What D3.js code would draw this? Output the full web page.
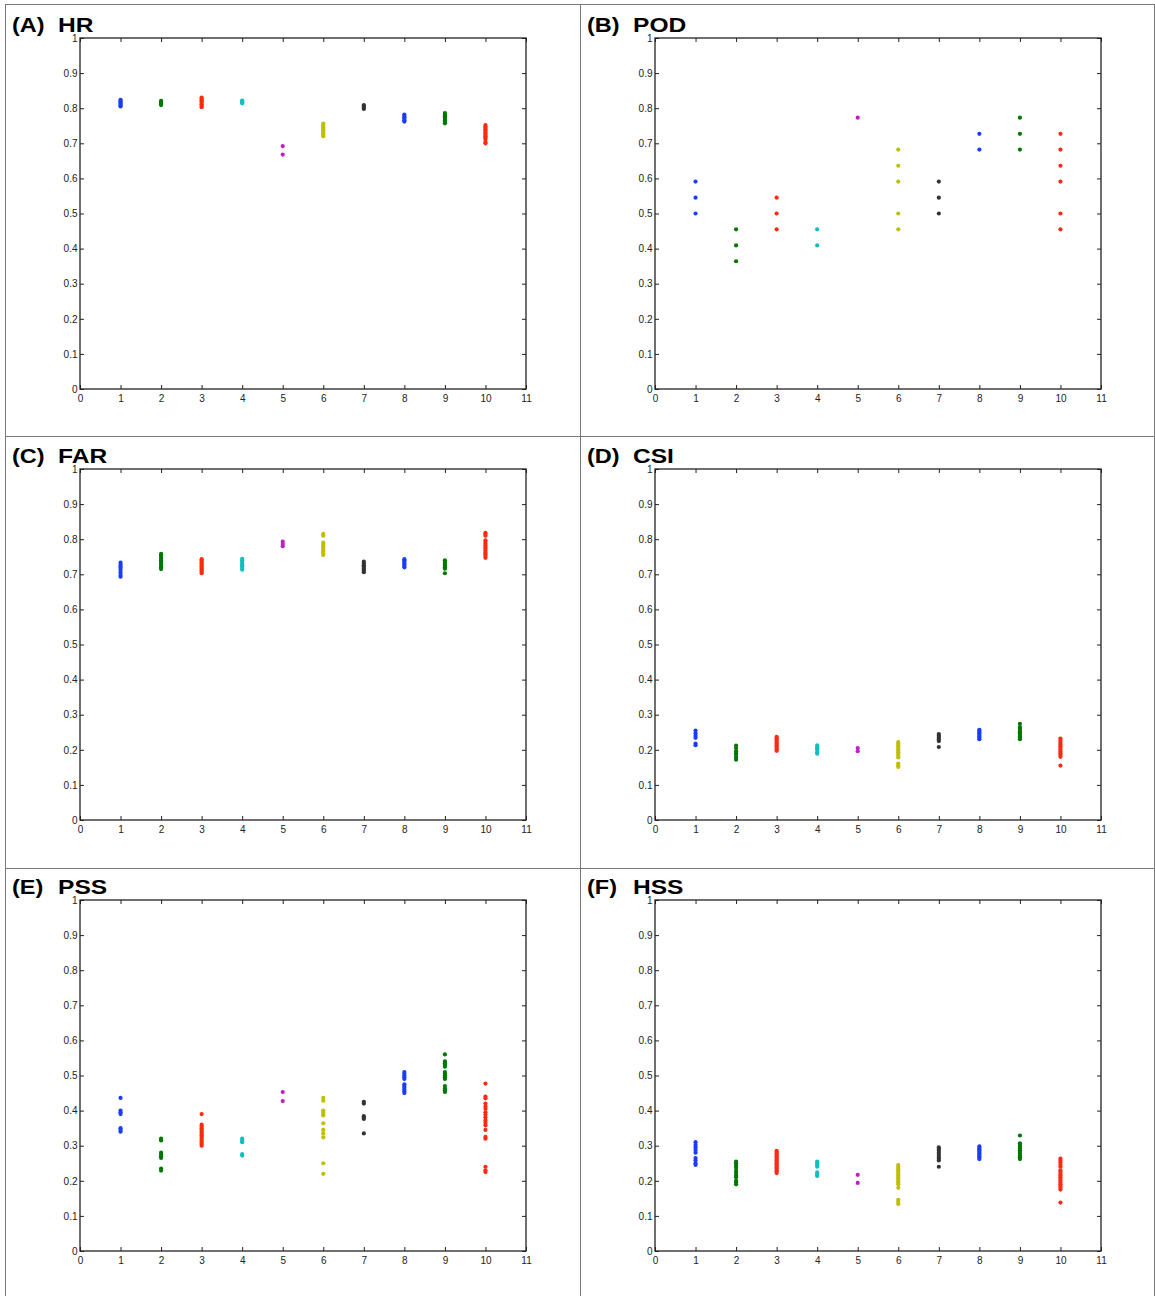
<!DOCTYPE html>
<html><head><meta charset="utf-8">
<script src="https://cdn.jsdelivr.net/npm/d3@7/dist/d3.min.js"></script>
<style>body{margin:0;background:#fff}svg{display:block}</style>
</head><body>
<script>
const panelLetters = ["(A)","(B)","(C)","(D)","(E)","(F)"];
const panelNames = ["HR","POD","FAR","CSI","PSS","HSS"];
const groups = [1,2,3,4,5,6,7,8,9,10];
const groupColors = ['#1a3cff','#007700','#ff2a10','#10bfbf','#bf20bf','#bfbf00','#333333','#1a3cff','#007700','#ff2a10'];
const xTicks = [0,1,2,3,4,5,6,7,8,9,10,11];
const yTicks = [0,0.1,0.2,0.3,0.4,0.5,0.6,0.7,0.8,0.9,1];
const yTickLabels = ["0","0.1","0.2","0.3","0.4","0.5","0.6","0.7","0.8","0.9","1"];

const hr = [
 [0.805,0.808,0.812,0.815,0.818,0.821,0.824],
 [0.809,0.812,0.815,0.818,0.821],
 [0.803,0.807,0.811,0.815,0.819,0.823,0.827,0.830],
 [0.814,0.817,0.820,0.822],
 [0.668,0.692],
 [0.720,0.724,0.728,0.732,0.736,0.740,0.744,0.748,0.752,0.756],
 [0.798,0.802,0.806,0.809],
 [0.762,0.766,0.770,0.774,0.778,0.782],
 [0.757,0.761,0.765,0.769,0.773,0.777,0.781,0.786],
 [0.700,0.704,0.712,0.716,0.720,0.724,0.728,0.732,0.736,0.740,0.744,0.748,0.752]
];
const pod = [
 [0.500,0.545,0.591],
 [0.364,0.409,0.455],
 [0.455,0.500,0.545],
 [0.409,0.455],
 [0.773],
 [0.455,0.500,0.591,0.636,0.682],
 [0.500,0.545,0.591],
 [0.682,0.727],
 [0.682,0.727,0.773],
 [0.455,0.500,0.591,0.636,0.682,0.727]
];
const far = [
 [0.693,0.698,0.705,0.712,0.718,0.722,0.727,0.733],
 [0.715,0.720,0.725,0.730,0.735,0.740,0.745,0.750,0.755,0.758],
 [0.703,0.707,0.711,0.715,0.719,0.723,0.727,0.731,0.735,0.739,0.743],
 [0.713,0.718,0.722,0.726,0.730,0.735,0.740,0.744],
 [0.780,0.786,0.793],
 [0.755,0.760,0.765,0.770,0.775,0.780,0.785,0.790,0.810,0.815],
 [0.706,0.710,0.714,0.718,0.722,0.726,0.731,0.736],
 [0.720,0.724,0.728,0.732,0.736,0.740,0.743],
 [0.703,0.716,0.720,0.725,0.730,0.735,0.740],
 [0.747,0.752,0.757,0.762,0.767,0.772,0.777,0.782,0.787,0.792,0.797,0.810,0.815,0.818]
];
const csi = [
 [0.213,0.218,0.234,0.240,0.247,0.255],
 [0.172,0.178,0.185,0.190,0.196,0.205,0.212],
 [0.197,0.201,0.205,0.209,0.213,0.217,0.221,0.225,0.229,0.233,0.237],
 [0.189,0.193,0.200,0.204,0.208,0.213],
 [0.196,0.205],
 [0.151,0.155,0.161,0.178,0.183,0.188,0.193,0.198,0.203,0.208,0.213,0.218,0.222],
 [0.208,0.225,0.230,0.235,0.240,0.245],
 [0.230,0.234,0.238,0.242,0.246,0.250,0.254,0.257],
 [0.230,0.234,0.238,0.242,0.246,0.250,0.254,0.260,0.265,0.274],
 [0.155,0.180,0.185,0.190,0.195,0.200,0.205,0.210,0.215,0.220,0.226,0.232]
];
const pss = [
 [0.340,0.345,0.350,0.390,0.395,0.400,0.436],
 [0.229,0.235,0.265,0.270,0.275,0.280,0.315,0.320],
 [0.300,0.305,0.310,0.315,0.320,0.325,0.330,0.335,0.340,0.345,0.350,0.355,0.360,0.390],
 [0.272,0.276,0.310,0.315,0.320],
 [0.427,0.453],
 [0.220,0.250,0.324,0.335,0.345,0.364,0.386,0.390,0.395,0.400,0.428,0.436],
 [0.335,0.376,0.380,0.384,0.420,0.425],
 [0.450,0.455,0.460,0.465,0.470,0.475,0.490,0.495,0.500,0.505,0.510],
 [0.453,0.458,0.463,0.470,0.490,0.495,0.500,0.505,0.510,0.525,0.530,0.535,0.540,0.560],
 [0.225,0.230,0.240,0.320,0.325,0.345,0.358,0.365,0.372,0.380,0.388,0.395,0.405,0.412,0.420,0.435,0.440,0.477]
];
const hss = [
 [0.245,0.250,0.258,0.265,0.280,0.288,0.295,0.302,0.310],
 [0.190,0.195,0.200,0.210,0.215,0.222,0.228,0.237,0.243,0.250,0.255],
 [0.222,0.226,0.230,0.234,0.238,0.242,0.246,0.250,0.254,0.258,0.262,0.266,0.270,0.274,0.278,0.282,0.285],
 [0.214,0.219,0.224,0.240,0.245,0.250,0.255],
 [0.194,0.217],
 [0.134,0.140,0.146,0.180,0.190,0.195,0.200,0.205,0.210,0.215,0.220,0.225,0.230,0.235,0.240,0.245],
 [0.240,0.258,0.263,0.268,0.274,0.280,0.286,0.291,0.295],
 [0.262,0.266,0.270,0.274,0.278,0.282,0.286,0.290,0.294,0.298],
 [0.262,0.267,0.272,0.277,0.282,0.287,0.292,0.297,0.302,0.307,0.329],
 [0.138,0.175,0.180,0.185,0.190,0.195,0.200,0.205,0.210,0.215,0.220,0.225,0.230,0.240,0.245,0.252,0.258,0.263]
];
const panelData = [hr, pod, far, csi, pss, hss];

const W = 1155, H = 1296;
const svg = d3.select("body").append("svg").attr("width", W).attr("height", H);

const frame = svg.append("g").attr("stroke", "#777").attr("stroke-width", 1).attr("fill", "none");
frame.append("rect").attr("x", 5.5).attr("y", 4.5).attr("width", 1149).attr("height", 1295);
frame.append("line").attr("x1", 580.5).attr("x2", 580.5).attr("y1", 4.5).attr("y2", H);
frame.append("line").attr("x1", 5.5).attr("x2", W).attr("y1", 436.5).attr("y2", 436.5);
frame.append("line").attr("x1", 5.5).attr("x2", W).attr("y1", 868.5).attr("y2", 868.5);

const colOff = [0, 575];
const rowOff = [0, 431, 862];
const plotL = 80, plotR = 526, plotT = 38, plotB = 389;
const FONT = "Liberation Sans, Arial, sans-serif";

panelData.forEach((data, i) => {
  const ox = colOff[i % 2], oy = rowOff[Math.floor(i / 2)];
  const g = svg.append("g").attr("transform", `translate(${ox},${oy})`);
  g.append("text").attr("transform", "translate(12,31.5) scale(1.12,1)")
    .attr("font-family", FONT).attr("font-weight", "bold").attr("font-size", 21).attr("fill", "#000")
    .text(panelLetters[i]);
  g.append("text").attr("transform", "translate(58,31.5) scale(1.17,1)")
    .attr("font-family", FONT).attr("font-weight", "bold").attr("font-size", 21).attr("fill", "#000")
    .text(panelNames[i]);

  const x = d3.scaleLinear().domain([0, 11]).range([plotL, plotR]);
  const y = d3.scaleLinear().domain([0, 1]).range([plotB, plotT]);

  const tickFont = s => s.attr("font-family", FONT).attr("font-size", 10);

  const xb = g.append("g").attr("transform", `translate(0,${plotB})`)
    .call(d3.axisBottom(x).tickValues(xTicks).tickFormat(d3.format("d")).tickSizeInner(-4).tickSizeOuter(0).tickPadding(6));
  xb.call(tickFont);
  const xt = g.append("g").attr("transform", `translate(0,${plotT})`)
    .call(d3.axisTop(x).tickValues(xTicks).tickFormat("").tickSizeInner(-4).tickSizeOuter(0));
  const yl = g.append("g").attr("transform", `translate(${plotL},0)`)
    .call(d3.axisLeft(y).tickValues(yTicks).tickFormat((d, k) => yTickLabels[k]).tickSizeInner(-4).tickSizeOuter(0).tickPadding(2.5));
  yl.call(tickFont);
  const yr = g.append("g").attr("transform", `translate(${plotR},0)`)
    .call(d3.axisRight(y).tickValues(yTicks).tickFormat("").tickSizeInner(-4).tickSizeOuter(0));

  [xb, xt, yl, yr].forEach(a => {
    a.select(".domain").remove();
    a.selectAll(".tick line").attr("stroke", "#222");
    a.selectAll("text").attr("fill", "#222");
  });

  g.append("rect").attr("x", plotL).attr("y", plotT).attr("width", plotR - plotL).attr("height", plotB - plotT)
    .attr("fill", "none").attr("stroke", "#222").attr("stroke-width", 1.3);

  groups.forEach((gi, k) => {
    g.append("g").attr("fill", groupColors[k])
      .selectAll("circle").data(data[k]).join("circle")
      .attr("cx", x(gi)).attr("cy", d => y(d)).attr("r", 2.1);
  });
});
</script>
</body></html>
